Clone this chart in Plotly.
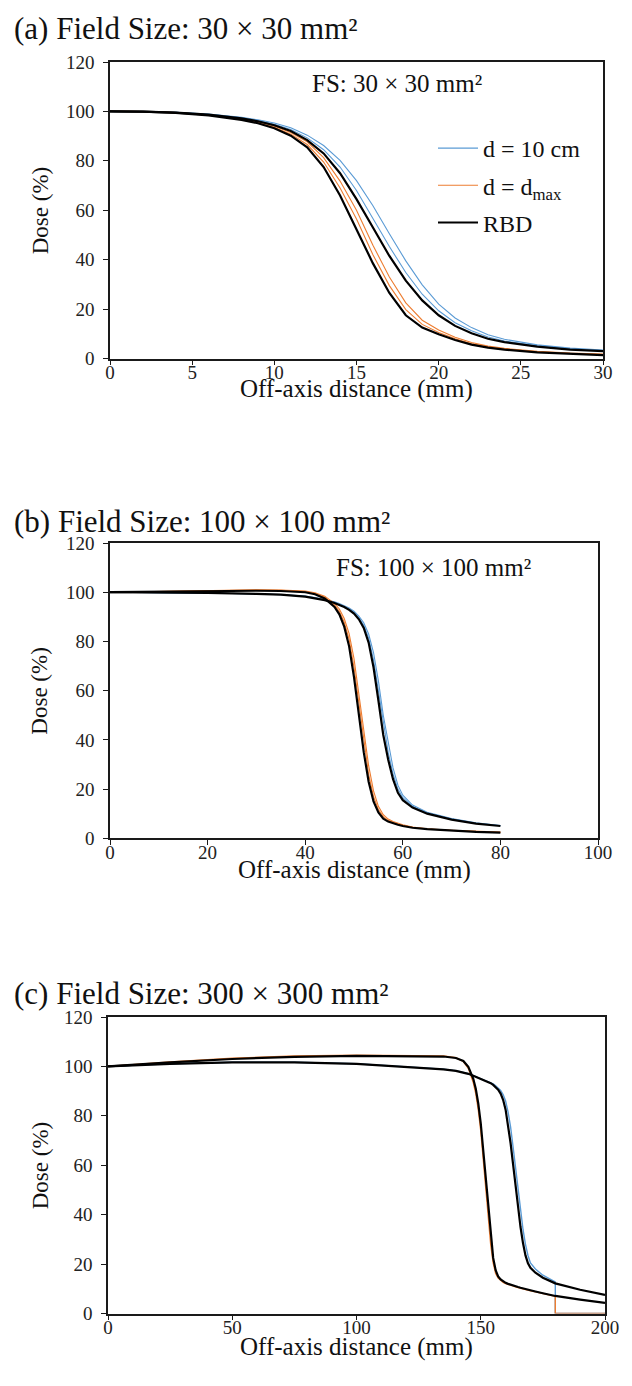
import plotly.graph_objects as go

FONT = "Liberation Serif, Times New Roman, serif"
BLUE = "#5B9BD5"
ORANGE = "#ED7D31"
BLACK = "#000000"
W, H = 632, 1386

# ---------------- Panel (a): 30 x 30 mm2 ----------------
X_A = [0, 2, 4, 6, 8, 9, 10, 11, 12, 13, 14, 15, 16, 17, 18, 19, 20, 21, 22, 23, 24, 26, 28, 30]
A_10_1 = [100, 99.9, 99.6, 98.8, 97.4, 96.3, 94.8, 92.7, 89.3, 84.5, 77.5, 68, 56.8, 45.3, 34.8, 26, 19.3, 14.5, 11.2, 8.7, 7.1, 5.1, 3.9, 3.2]
A_10_2 = [100, 99.9, 99.6, 98.9, 97.6, 96.6, 95.3, 93.4, 90.4, 86.2, 80.2, 72, 61.8, 50.5, 39.5, 29.8, 22, 16.4, 12.5, 9.6, 7.8, 5.5, 4.2, 3.4]
A_DMAX_1 = [100, 99.9, 99.5, 98.5, 96.8, 95.5, 93.6, 90.8, 86.6, 79.5, 69, 56.5, 42, 29.5, 19.8, 13.8, 10.5, 8, 6, 4.7, 3.8, 2.7, 2.0, 1.6]
A_DMAX_2 = [100, 99.9, 99.5, 98.6, 97, 95.8, 94, 91.5, 87.7, 81.3, 71.8, 60, 45.8, 33, 22.5, 15.5, 11.5, 8.6, 6.5, 5, 4.1, 2.9, 2.2, 1.8]
A_RBD_10 = [100, 99.9, 99.5, 98.7, 97.2, 96, 94.4, 92.1, 88.4, 83, 75, 64.5, 53, 41.5, 31.5, 23.5, 17.5, 13.2, 10.2, 8, 6.6, 4.8, 3.6, 3.0]
A_RBD_DMAX = [100, 99.9, 99.4, 98.4, 96.6, 95.2, 93.2, 90.2, 85.5, 77.5, 66, 52.5, 38.5, 26.5, 17.5, 12.5, 9.8, 7.5, 5.6, 4.4, 3.6, 2.5, 1.8, 1.4]

# ---------------- Panel (b): 100 x 100 mm2 ----------------
X_B = [0, 10, 20, 30, 35, 40, 42, 44, 46, 47, 48, 49, 50, 51, 52, 53, 54, 55, 56, 57, 58, 59, 60, 62, 65, 70, 75, 80]
B_10_1 = [100, 99.9, 99.7, 99.3, 99, 98.3, 97.7, 97, 95.9, 95.1, 94.3, 93.2, 91.8, 89.7, 86.6, 81.3, 72.5, 60, 46, 35, 26.2, 20, 16.5, 13, 10.3, 7.8, 6.1, 5.1]
B_10_2 = [100, 99.9, 99.8, 99.4, 99.1, 98.4, 97.8, 97.1, 96.1, 95.4, 94.6, 93.6, 92.3, 90.3, 87.6, 83, 75.5, 64, 50, 38.5, 28.6, 21.6, 17.5, 13.5, 10.6, 8, 6.3, 5.2]
B_DMAX_1 = [100, 100.4, 100.8, 100.9, 100.8, 100.3, 99.5, 98, 94.8, 92.2, 87.8, 80.8, 69.5, 54.5, 39, 26, 17, 11.7, 8.8, 7.3, 6.4, 5.8, 5.3, 4.5, 3.8, 3.2, 2.7, 2.4]
B_DMAX_2 = [100, 100.4, 100.9, 101, 100.9, 100.5, 99.8, 98.4, 95.5, 93.2, 89.3, 83.2, 73, 59, 43.5, 29.5, 19.3, 13, 9.6, 7.8, 6.8, 6.1, 5.5, 4.6, 3.9, 3.3, 2.8, 2.5]
B_RBD_10 = [100, 99.9, 99.7, 99.3, 99, 98.2, 97.6, 96.8, 95.6, 94.8, 94, 92.8, 91.3, 89, 85.5, 79.5, 69.5, 56, 42, 32, 24, 18.5, 15.5, 12.5, 10, 7.6, 6, 5]
B_RBD_DMAX = [100, 100.3, 100.6, 100.6, 100.5, 100, 99.2, 97.5, 94, 91, 86, 78, 65.5, 50, 35, 23, 15, 10.5, 8, 6.8, 6, 5.5, 5, 4.3, 3.7, 3.1, 2.6, 2.3]

# ---------------- Panel (c): 300 x 300 mm2 ----------------
X_C = [0, 10, 25, 50, 75, 100, 125, 135, 140, 143, 145, 147, 148, 149, 150, 151, 152, 153, 154, 155,
       156, 157, 158, 159, 160, 161, 162, 163, 164, 165, 166, 167, 168, 169, 170, 172, 175, 180, 190, 200]
C_RBD_10 = [100, 100.4, 101, 101.6, 101.6, 101, 99.6, 98.8, 98.2, 97.6, 97, 96.2, 95.8, 95.4, 95, 94.6, 94.2, 93.7, 93.2, 92.5,
            91.7, 90.6, 89, 86.5, 82.5, 76.5, 69, 60.5, 51.5, 43, 35, 28.5, 23.5, 20.3, 18.5, 16.5, 14.5, 12.2, 9.6, 7.5]
C_RBD_DMAX = [100, 100.7, 101.6, 103, 103.9, 104.3, 104.3, 104, 103.4, 102.2, 99.8, 95, 91, 85, 77, 66, 54, 42, 31, 22.5,
              17.5, 15, 13.8, 13, 12.4, 12, 11.6, 11.3, 11, 10.7, 10.4, 10.1, 9.8, 9.6, 9.3, 8.9, 8.2, 7.1, 5.6, 4.3]
# measured profiles stop at 180 mm (then plotted as zero)
X_C_MEAS = [0, 10, 25, 50, 75, 100, 125, 135, 140, 143, 145, 147, 148, 149, 150, 151, 152, 153, 154, 155,
            156, 157, 158, 159, 160, 161, 162, 163, 164, 165, 166, 167, 168, 169, 170, 172, 175, 180, 180, 200]
C_10_MEAS = [100, 100.5, 101.1, 101.7, 101.7, 101.1, 99.7, 98.9, 98.3, 97.7, 97.1, 96.3, 95.9, 95.5, 95.1, 94.7, 94.3, 93.9, 93.5, 92.9,
             92.2, 91.4, 90.3, 88.6, 86, 81.5, 75.5, 67.5, 58.5, 50, 41.5, 34, 28, 23.5, 20.5, 18, 15.5, 12.8, 0, 0]
C_DMAX_MEAS = [100, 100.8, 101.8, 103.3, 104.2, 104.5, 104.5, 104.2, 103.5, 102, 99.2, 93.5, 89, 82.5, 74, 62.5, 50.5, 38.5, 28, 20.5,
               16.2, 14.3, 13.3, 12.6, 12.1, 11.7, 11.4, 11.1, 10.8, 10.5, 10.2, 9.9, 9.7, 9.5, 9.2, 8.8, 8.1, 7.0, 0, 0]

PANEL_TITLES = ["(a) Field Size: 30 × 30 mm²",
                "(b) Field Size: 100 × 100 mm²",
                "(c) Field Size: 300 × 300 mm²"]
FS_LABELS = ["FS: 30 × 30 mm²", "FS: 100 × 100 mm²"]
X_TITLE = "Off-axis distance (mm)"
Y_TITLE = "Dose (%)"
LEGEND_NAMES = ["d = 10 cm", "d = d<sub>max</sub>", "RBD"]

fig = go.Figure()


def line(x, y, color, width, ax, name=None, show=False, group=None, rank=None):
    fig.add_trace(go.Scatter(
        x=x, y=y, mode="lines", line=dict(color=color, width=width),
        xaxis="x" + ax, yaxis="y" + ax, name=name or "", showlegend=show,
        legendgroup=group, legendrank=rank or 1000, hoverinfo="skip"))


# panel a
line(X_A, A_10_1, BLUE, 1.1, "", LEGEND_NAMES[0], True, "g1", 1)
line(X_A, A_10_2, BLUE, 1.1, "")
line(X_A, A_DMAX_1, ORANGE, 1.1, "", LEGEND_NAMES[1], True, "g2", 2)
line(X_A, A_DMAX_2, ORANGE, 1.1, "")
line(X_A, A_RBD_10, BLACK, 2.2, "", LEGEND_NAMES[2], True, "g3", 3)
line(X_A, A_RBD_DMAX, BLACK, 2.2, "")
# panel b
line(X_B, B_10_1, BLUE, 1.1, "2")
line(X_B, B_10_2, BLUE, 1.1, "2")
line(X_B, B_DMAX_1, ORANGE, 1.1, "2")
line(X_B, B_DMAX_2, ORANGE, 1.1, "2")
line(X_B, B_RBD_10, BLACK, 2.2, "2")
line(X_B, B_RBD_DMAX, BLACK, 2.2, "2")
# panel c
line(X_C_MEAS, C_10_MEAS, BLUE, 1.4, "3")
line(X_C_MEAS, C_DMAX_MEAS, ORANGE, 1.4, "3")
line(X_C, C_RBD_10, BLACK, 2.2, "3")
line(X_C, C_RBD_DMAX, BLACK, 2.2, "3")

# geometry in pixels: (left, right, top, bottom)
PANELS = [(110, 603, 62, 358.5), (110, 598, 543, 838.3), (108, 605, 1017, 1313.5)]
XRANGES = [(0, 30, 5), (0, 100, 20), (0, 200, 50)]
TITLE_Y = [28, 521, 993]
XTITLE_Y = [389, 870, 1347]


def px(v):
    return v / W


def py(v):
    return 1 - v / H


axis_common = dict(showline=True, linecolor="#1a1a1a", linewidth=1.6, mirror=True,
                   ticks="outside", ticklen=5, tickwidth=1.4, tickcolor="#1a1a1a",
                   showgrid=False, zeroline=False, automargin=False,
                   tickfont=dict(family=FONT, size=19, color="#222"))

annotations = []
for i, (l, r, t, b) in enumerate(PANELS):
    sfx = "" if i == 0 else str(i + 1)
    x0, x1, dt = XRANGES[i]
    fig.layout["xaxis" + sfx] = dict(domain=[px(l), px(r)], range=[x0, x1], dtick=dt,
                                     anchor="y" + sfx, ticklabelstandoff=-9, **axis_common)
    fig.layout["yaxis" + sfx] = dict(domain=[py(b), py(t)], range=[0, 120], dtick=20,
                                     anchor="x" + sfx, ticklabelstandoff=5, **axis_common)
    annotations.append(dict(text=PANEL_TITLES[i], x=px(12), y=py(TITLE_Y[i]), xref="paper", yref="paper",
                            xanchor="left", yanchor="middle", showarrow=False,
                            font=dict(family=FONT, size=31, color="#111")))
    annotations.append(dict(text=X_TITLE, x=px((l + r) / 2), y=py(XTITLE_Y[i]), xref="paper", yref="paper",
                            xanchor="center", yanchor="middle", showarrow=False,
                            font=dict(family=FONT, size=25, color="#111")))
    annotations.append(dict(text=Y_TITLE, x=px(40), y=py((t + b) / 2), xref="paper", yref="paper",
                            xanchor="center", yanchor="middle", showarrow=False, textangle=-90,
                            font=dict(family=FONT, size=23, color="#111")))

FS_POS = [(397, 84), (433, 567)]
for lab, (cx, cy) in zip(FS_LABELS, FS_POS):
    annotations.append(dict(text=lab, x=px(cx), y=py(cy), xref="paper", yref="paper",
                            xanchor="center", yanchor="middle", showarrow=False,
                            font=dict(family=FONT, size=25, color="#111")))

fig.update_layout(
    width=W, height=H,
    margin=dict(l=0, r=0, t=0, b=0, pad=0, autoexpand=False),
    paper_bgcolor="white", plot_bgcolor="white",
    annotations=annotations,
    showlegend=True,
    legend=dict(x=px(433), y=py(126), xanchor="left", yanchor="top",
                bgcolor="rgba(255,255,255,0)", traceorder="grouped", tracegroupgap=3,
                font=dict(family=FONT, size=24, color="#111"), itemwidth=40),
)

fig.write_html(
    "out.html",
    config={"responsive": False, "displayModeBar": False},
    post_script="document.body.style.margin='0';document.body.style.overflow='hidden';",
)
